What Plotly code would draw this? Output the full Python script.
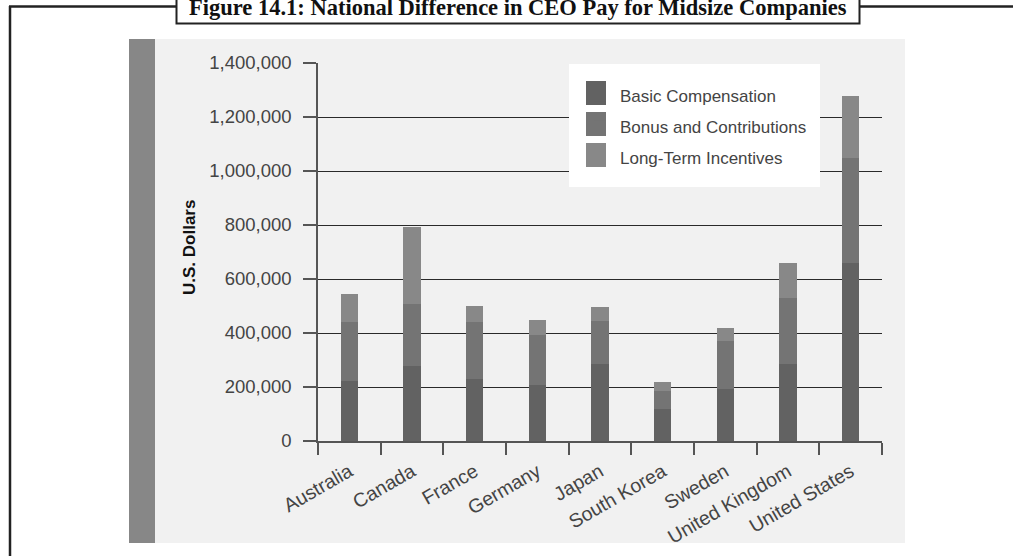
import plotly.graph_objects as go

countries = ["Australia", "Canada", "France", "Germany", "Japan",
             "South Korea", "Sweden", "United Kingdom", "United States"]
basic = [224000, 279000, 231000, 209000, 284000, 117000, 193000, 286000, 659000]
bonus = [218000, 228000, 211000, 184000, 160000, 69000, 177000, 242000, 391000]
long_term = [104000, 287000, 57000, 56000, 52000, 31000, 48000, 131000, 228000]
series_names = ["Basic Compensation", "Bonus and Contributions", "Long-Term Incentives"]
series_colors = ["#626262", "#747474", "#888888"]
y_ticks = [0, 200000, 400000, 600000, 800000, 1000000, 1200000, 1400000]

W, H = 1013, 556
ML, MR, MT, MB = 318, 131, 63, 115
PW, PH = W - ML - MR, H - MT - MB


def px2x(p):
    return (p - ML) / PW


def px2y(p):
    return (H - MB - p) / PH


fig = go.Figure()
for name, vals, col in zip(series_names, [basic, bonus, long_term], series_colors):
    fig.add_trace(go.Bar(
        x=countries, y=vals, name=name, legendgroup=name,
        marker=dict(color=col, line=dict(width=0)), width=0.28,
    ))

shapes = []
# chart panel and stripe
shapes.append(dict(type="rect", xref="paper", yref="paper", layer="below",
                   x0=px2x(129), x1=px2x(905), y0=px2y(39), y1=px2y(543),
                   fillcolor="#f1f1f1", line=dict(width=0)))
shapes.append(dict(type="rect", xref="paper", yref="paper", layer="below",
                   x0=px2x(129), x1=px2x(155), y0=px2y(39), y1=px2y(543),
                   fillcolor="#878787", line=dict(width=0)))
# frame lines
shapes.append(dict(type="line", xref="paper", yref="paper",
                   x0=px2x(10), x1=px2x(10), y0=px2y(6), y1=px2y(560),
                   line=dict(color="#222222", width=2.5)))
shapes.append(dict(type="line", xref="paper", yref="paper",
                   x0=px2x(9), x1=px2x(177), y0=px2y(6.5), y1=px2y(6.5),
                   line=dict(color="#222222", width=2.5)))
shapes.append(dict(type="line", xref="paper", yref="paper",
                   x0=px2x(859), x1=px2x(1020), y0=px2y(6.5), y1=px2y(6.5),
                   line=dict(color="#222222", width=2.5)))
# title box
shapes.append(dict(type="rect", xref="paper", yref="paper",
                   x0=px2x(176.5), x1=px2x(859.5), y0=px2y(-10), y1=px2y(23.5),
                   fillcolor="white", line=dict(color="#222222", width=2)))
# legend box
shapes.append(dict(type="rect", xref="paper", yref="paper",
                   x0=px2x(569), x1=px2x(820), y0=px2y(64), y1=px2y(187),
                   fillcolor="white", line=dict(width=0)))
# legend swatches (enlarged)
for i, col in enumerate(series_colors):
    yc = 93 + 31 * i
    shapes.append(dict(type="rect", xref="paper", yref="paper",
                       x0=px2x(586), x1=px2x(606), y0=px2y(yc - 12), y1=px2y(yc + 12),
                       fillcolor=col, line=dict(width=0)))

annotations = [
    dict(text="<b>Figure 14.1: National Difference in CEO Pay for Midsize Companies</b>",
         xref="paper", yref="paper", x=px2x(518), y=px2y(7), xanchor="center", yanchor="middle",
         showarrow=False, font=dict(family="Liberation Serif", size=22.5, color="#111111")),
    dict(text="<b>U.S. Dollars</b>", xref="paper", yref="paper", x=px2x(189), y=px2y(248),
         xanchor="center", yanchor="middle", textangle=-90, showarrow=False,
         font=dict(family="Liberation Sans", size=17, color="#111111")),
]

fig.update_layout(
    width=W, height=H, margin=dict(l=ML, r=MR, t=MT, b=MB, autoexpand=False),
    barmode="stack",
    paper_bgcolor="white", plot_bgcolor="rgba(0,0,0,0)",
    shapes=shapes, annotations=annotations,
    font=dict(family="Liberation Sans", color="#3a3a3a"),
    legend=dict(x=px2x(580), y=px2y(78), xanchor="left", yanchor="top",
                bgcolor="rgba(0,0,0,0)", traceorder="grouped", tracegroupgap=6,
                font=dict(family="Liberation Sans", size=17, color="#444444")),
)
fig.update_yaxes(range=[0, 1400000], tickvals=y_ticks, tickformat=",d",
                 showgrid=True, gridcolor="#2a2a2a", gridwidth=1,
                 zeroline=False, showline=True, linecolor="#555555", linewidth=1.5,
                 ticks="outside", ticklen=13, tickcolor="#555555", tickwidth=1.5,
                 tickfont=dict(size=18.5, color="#444444"), ticklabelstandoff=8)
fig.update_xaxes(type="category", showgrid=False, showline=True, linecolor="#555555",
                 linewidth=1.5, ticks="outside", tickson="boundaries", ticklen=12,
                 tickcolor="#555555", tickwidth=1.5, tickangle=-30, ticklabelstandoff=10,
                 tickfont=dict(size=19.5, color="#444444"))

fig.write_html("out.html")
